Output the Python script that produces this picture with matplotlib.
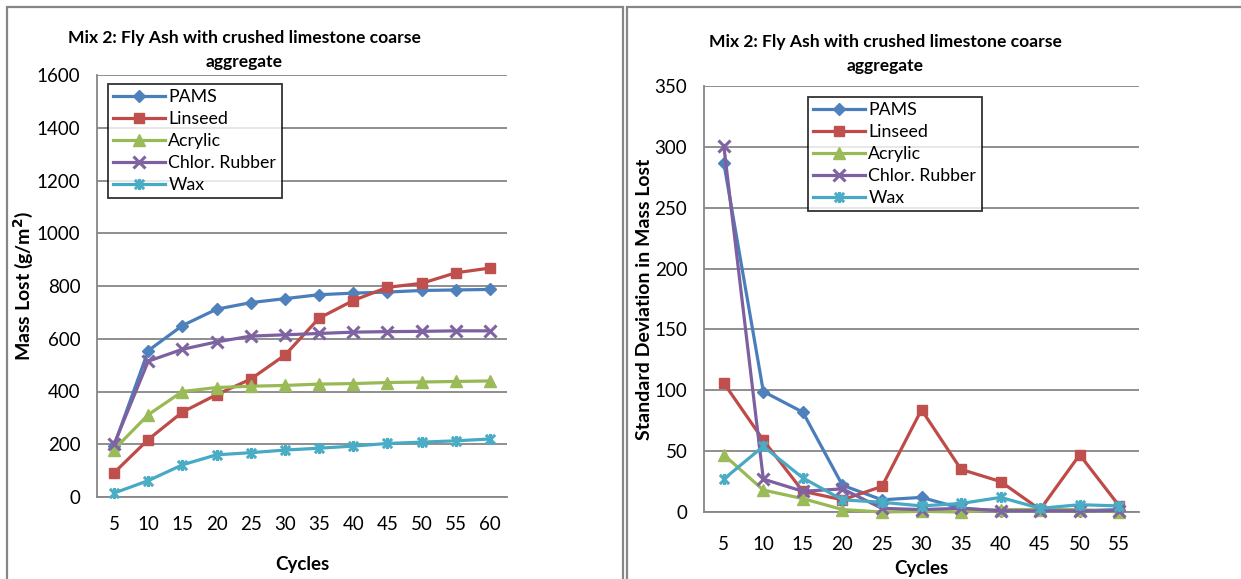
import matplotlib
matplotlib.use("Agg")
import matplotlib.pyplot as plt
from matplotlib.path import Path
from matplotlib.patches import Rectangle

plt.rcParams['font.family'] = ['Lato', 'DejaVu Sans']

cycles_mass = [5, 10, 15, 20, 25, 30, 35, 40, 45, 50, 55, 60]
cycles_sd = [5, 10, 15, 20, 25, 30, 35, 40, 45, 50, 55]
series = ["PAMS", "Linseed", "Acrylic", "Chlor. Rubber", "Wax"]

pams_mass = [195, 555, 650, 712, 737, 752, 767, 773, 777, 783, 785, 787]
linseed_mass = [92, 218, 322, 388, 447, 538, 678, 745, 795, 810, 850, 868]
acrylic_mass = [180, 312, 400, 415, 420, 423, 428, 430, 434, 436, 438, 440]
chlor_mass = [200, 515, 560, 588, 610, 615, 620, 625, 627, 628, 630, 630]
wax_mass = [15, 62, 122, 160, 168, 178, 185, 193, 203, 208, 213, 220]

pams_sd = [287, 99, 82, 22, 10, 12, 3, 1, 2, 1, 2]
linseed_sd = [106, 59, 17, 10, 21, 84, 35, 25, 2, 47, 5]
acrylic_sd = [47, 18, 11, 2, 0, 0.5, 0, 2, 2, 2, 0]
chlor_sd = [301, 27, 17, 19, 3, 2, 3, 1, 1, 1, 1]
wax_sd = [27, 54, 28, 10, 8, 5, 7, 12, 3, 6, 5]

line_colors = ["#4A7EBB", "#BE4B48", "#98B954", "#7D60A0", "#46AAC5"]
marker_colors = ["#4F81BD", "#C0504D", "#9BBB59", "#8064A2", "#4BACC6"]

# Excel style "star" marker: an x with a vertical bar
star = Path([(-1, -1), (1, 1), (-1, 1), (1, -1), (0, -1.2), (0, 1.2)],
            [Path.MOVETO, Path.LINETO, Path.MOVETO, Path.LINETO, Path.MOVETO, Path.LINETO])
markers = ["D", "s", "^", "x", star]
msizes = [6.5, 6.5, 8, 8, 8]

grid_color = "#868686"
title = "Mix 2: Fly Ash with crushed limestone coarse\naggregate"


def draw(ax, cycles, data, ylim, yticks, ylabel):
    pos = list(range(len(cycles)))
    for i, vals in enumerate(data):
        filled = markers[i] in ("D", "s", "^")
        ax.plot(pos, vals, color=line_colors[i], lw=2.3, marker=markers[i],
                markersize=msizes[i], markerfacecolor=marker_colors[i],
                markeredgecolor=marker_colors[i],
                markeredgewidth=1 if filled else 2.2, label=series[i],
                clip_on=False, zorder=3)
    ax.set_xlim(-0.5, len(cycles) - 0.5)
    ax.set_ylim(*ylim)
    ax.set_yticks(yticks)
    ax.set_xticks(pos)
    ax.set_xticklabels([str(c) for c in cycles])
    ax.yaxis.grid(True, color=grid_color, lw=1.3)
    ax.set_axisbelow(True)
    for s in ("top", "right"):
        ax.spines[s].set_visible(False)
    for s in ("left", "bottom"):
        ax.spines[s].set_color(grid_color)
        ax.spines[s].set_linewidth(1.3)
    ax.tick_params(length=0, labelsize=13.5)
    ax.tick_params(axis="y", pad=12)
    ax.set_ylabel(ylabel, fontsize=14, fontweight="bold")
    leg = ax.legend(loc="upper left", fontsize=12.8, frameon=True, fancybox=False,
                    edgecolor="black", borderpad=0.3, labelspacing=0.33,
                    handlelength=2.9, handletextpad=0.2, borderaxespad=0)
    leg.get_frame().set_linewidth(1.3)
    return leg


fig = plt.figure(figsize=(12.41, 5.79), dpi=100)

# panel borders
fig.patches.append(Rectangle((7 / 1241, -0.05), 616 / 1241, 1 - 7 / 579 + 0.05,
                             transform=fig.transFigure, fill=False,
                             edgecolor=grid_color, lw=1.6))
fig.patches.append(Rectangle((627 / 1241, -0.05), 700 / 1241, 1 - 7 / 579 + 0.05,
                             transform=fig.transFigure, fill=False,
                             edgecolor=grid_color, lw=1.6))

ax1 = fig.add_axes([97 / 1241, 1 - 497 / 579, 410 / 1241, 422 / 579])
leg1 = draw(ax1, cycles_mass, [pams_mass, linseed_mass, acrylic_mass, chlor_mass, wax_mass],
            (0, 1600), range(0, 1601, 200), "Mass Lost (g/m$^\\mathbf{2}$)")
leg1.set_bbox_to_anchor((108 / 1241, 1 - 84 / 579), transform=fig.transFigure)
ax1.tick_params(axis="x", pad=14)
ax1.set_xlabel("Cycles", fontsize=13.5, fontweight="bold", labelpad=16)
ax1.yaxis.set_label_coords(-0.152, 0.5)
fig.text(244 / 1241, 1 - 50 / 579, title, ha="center", va="center", fontsize=12.6,
         fontweight="bold", linespacing=1.65)

ax2 = fig.add_axes([704 / 1241, 1 - 512 / 579, 435 / 1241, 426 / 579])
leg2 = draw(ax2, cycles_sd, [pams_sd, linseed_sd, acrylic_sd, chlor_sd, wax_sd],
            (0, 350), range(0, 351, 50), "Standard Deviation in Mass Lost")
leg2.set_bbox_to_anchor((808 / 1241, 1 - 97 / 579), transform=fig.transFigure)
ax2.tick_params(axis="x", pad=17)
ax2.set_xlabel("Cycles", fontsize=13.5, fontweight="bold", labelpad=5)
ax2.yaxis.set_label_coords(-0.118, 0.5)
fig.text(885 / 1241, 1 - 54 / 579, title, ha="center", va="center", fontsize=12.6,
         fontweight="bold", linespacing=1.65)

fig.savefig("out.png", dpi=100)
